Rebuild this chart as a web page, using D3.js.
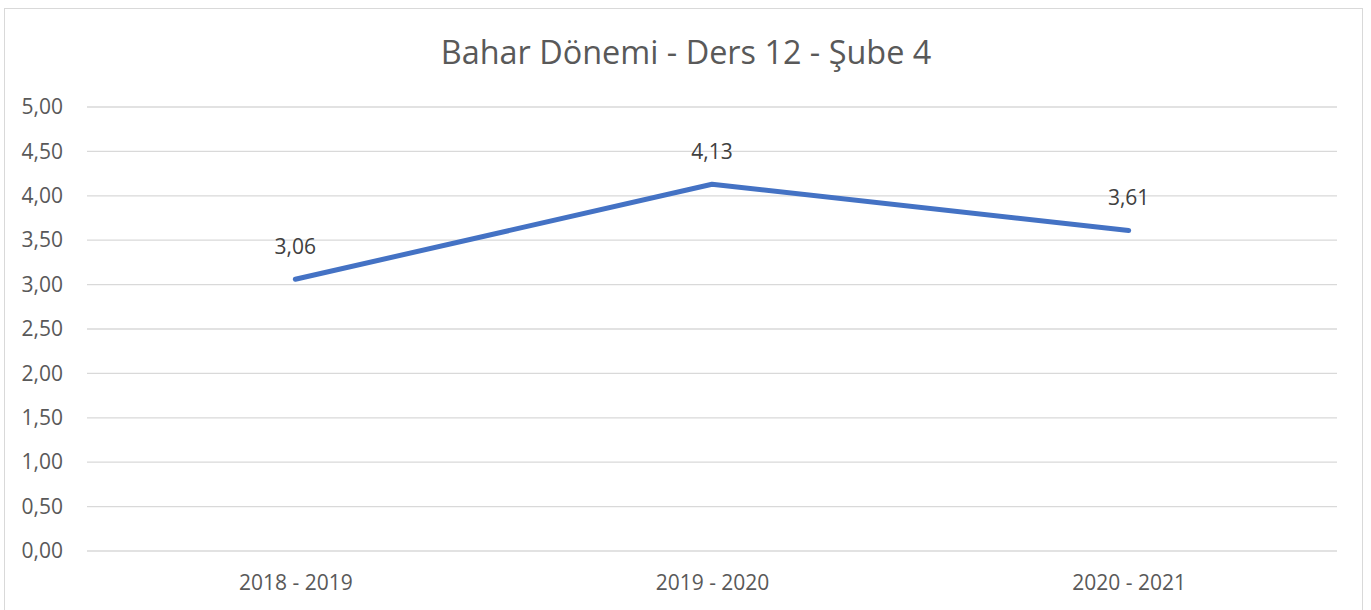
<!DOCTYPE html>
<html>
<head>
<meta charset="utf-8">
<script src="https://cdn.jsdelivr.net/npm/d3@7"></script>
<style>
  body { margin: 0; background: #fff; }
  svg { display: block; font-family: "Open Sans", "Noto Sans", sans-serif; }
</style>
</head>
<body>
<div id="chart"></div>
<script>
// veriler
const categories = ['2018 - 2019', '2019 - 2020', '2020 - 2021'];
const values = [3.06, 4.13, 3.61];
const yTicks = [0, 0.5, 1, 1.5, 2, 2.5, 3, 3.5, 4, 4.5, 5];
const title = 'Bahar Dönemi - Ders 12 - Şube 4';

const width = 1371, height = 610;
const margin = { top: 107, right: 34, bottom: 59, left: 87 };

const svg = d3.select('#chart').append('svg')
    .attr('width', width)
    .attr('height', height);

// çerçeve
svg.append('rect')
    .attr('x', 4.5).attr('y', 8.5)
    .attr('width', 1358).attr('height', 610)
    .attr('fill', '#fff')
    .attr('stroke', '#d9d9d9')
    .attr('stroke-width', 1);

const x = d3.scalePoint()
    .domain(categories)
    .range([margin.left, width - margin.right])
    .padding(0.5);

const y = d3.scaleLinear()
    .domain([0, 5])
    .range([height - margin.bottom, margin.top]);

const fmt = v => d3.format('.2f')(v).replace('.', ',');

// ızgara çizgileri
svg.append('g')
    .selectAll('line')
    .data(yTicks)
    .enter()
    .append('line')
    .attr('x1', margin.left)
    .attr('x2', width - margin.right)
    .attr('y1', d => y(d))
    .attr('y2', d => y(d))
    .attr('stroke', '#d9d9d9')
    .attr('stroke-width', 1.3);

// y ekseni
const yAxis = svg.append('g')
    .attr('transform', 'translate(' + 63 + ',0)')
    .call(d3.axisLeft(y).tickValues(yTicks).tickFormat(fmt).tickSize(0).tickPadding(0));
yAxis.select('.domain').remove();
yAxis.selectAll('text')
    .attr('fill', '#595959')
    .attr('font-size', 21)
    .attr('font-family', '"Open Sans", sans-serif');

// x ekseni
const xAxis = svg.append('g')
    .attr('transform', 'translate(0,' + (height - margin.bottom) + ')')
    .call(d3.axisBottom(x).tickSize(0).tickPadding(24));
xAxis.select('.domain').remove();
xAxis.selectAll('text')
    .attr('fill', '#595959')
    .attr('font-size', 21)
    .attr('font-family', '"Open Sans", sans-serif');

// çizgi
const line = d3.line()
    .x((d, i) => x(categories[i]))
    .y(d => y(d));

svg.append('path')
    .datum(values)
    .attr('fill', 'none')
    .attr('stroke', '#4472c4')
    .attr('stroke-width', 5)
    .attr('stroke-linejoin', 'round')
    .attr('stroke-linecap', 'round')
    .attr('d', line);

// veri etiketleri
svg.append('g')
    .selectAll('text')
    .data(values)
    .enter()
    .append('text')
    .attr('x', (d, i) => x(categories[i]))
    .attr('y', d => y(d) - 25)
    .attr('text-anchor', 'middle')
    .attr('fill', '#404040')
    .attr('font-size', 21)
    .text(d => fmt(d));

// başlık
svg.append('text')
    .attr('x', 686)
    .attr('y', 64)
    .attr('text-anchor', 'middle')
    .attr('fill', '#595959')
    .attr('font-size', 32.4)
    .text(title);
</script>
</body>
</html>
